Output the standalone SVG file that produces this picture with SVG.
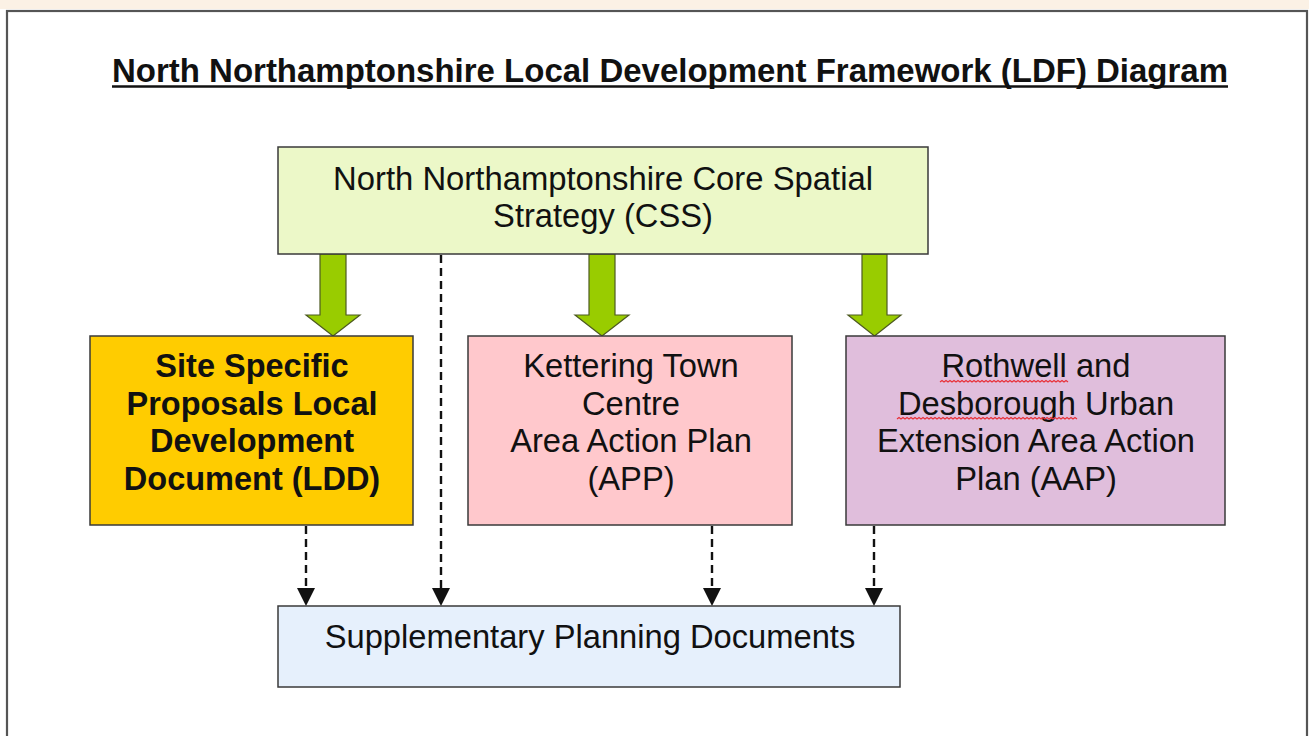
<svg xmlns="http://www.w3.org/2000/svg" width="1309" height="736" viewBox="0 0 1309 736">
<style>
.box{stroke:#3a3a3a;stroke-width:1.5}
.t{font-family:"Liberation Sans",Arial,sans-serif;font-size:32.7px;fill:#111;text-anchor:middle}
.b{font-weight:bold;font-size:32.5px}
.blk{fill:#99cc00;stroke:#4d5a20;stroke-width:1.2}
.dash{stroke:#111;stroke-width:2.4;stroke-dasharray:8 5;fill:none}
.sq{fill:none;stroke:#e8333a;stroke-width:1.2}
</style>
<defs>
<marker id="ah" markerUnits="userSpaceOnUse" markerWidth="18" markerHeight="18" refX="0" refY="9" orient="auto">
<path d="M0,0 L18,9 L0,18 z" fill="#111"/>
</marker>
</defs>
<rect x="0" y="0" width="1309" height="736" fill="#ffffff"/>
<rect x="0" y="0" width="1309" height="9" fill="#fbf1e5"/>
<rect x="7" y="11" width="1300" height="740" fill="#ffffff" stroke="#555" stroke-width="2.2"/>

<g id="title">
<text class="t b" x="670" y="82" style="font-size:33px" textLength="1116" lengthAdjust="spacingAndGlyphs">North Northamptonshire Local Development Framework (LDF) Diagram</text>
<line x1="112" y1="86.5" x2="1228" y2="86.5" stroke="#111" stroke-width="2.5"/>
</g>

<g id="connectors">
<polygon class="blk" points="320,254 346,254 346,315 360,315 333,336 306,315 320,315"/>
<polygon class="blk" points="589,254 615,254 615,315 629,315 602,336 575,315 589,315"/>
<polygon class="blk" points="862,254 887,254 887,315 901,315 874.5,336 848,315 862,315"/>
<line class="dash" x1="306" y1="526" x2="306" y2="588" marker-end="url(#ah)"/>
<line class="dash" x1="441" y1="255" x2="441" y2="588" marker-end="url(#ah)"/>
<line class="dash" x1="712" y1="526" x2="712" y2="588" marker-end="url(#ah)"/>
<line class="dash" x1="874" y1="526" x2="874" y2="588" marker-end="url(#ah)"/>
</g>

<g id="css">
<rect class="box" x="278" y="147" width="650" height="107" fill="#ecf8c8"/>
<text class="t" x="603" y="190" textLength="540" lengthAdjust="spacingAndGlyphs">North Northamptonshire Core Spatial</text>
<text class="t" x="603" y="227">Strategy (CSS)</text>
</g>

<g id="ldd">
<rect class="box" x="90" y="336" width="323" height="189" fill="#ffcc00"/>
<text class="t b" x="252" y="377">Site Specific</text>
<text class="t b" x="252" y="415">Proposals Local</text>
<text class="t b" x="252" y="452">Development</text>
<text class="t b" x="252" y="490">Document (LDD)</text>
</g>

<g id="app">
<rect class="box" x="468" y="336" width="324" height="189" fill="#ffc8cc"/>
<text class="t" x="631" y="377">Kettering Town</text>
<text class="t" x="631" y="415">Centre</text>
<text class="t" x="631" y="452">Area Action Plan</text>
<text class="t" x="631" y="490">(APP)</text>
</g>

<g id="aap">
<rect class="box" x="846" y="336" width="379" height="189" fill="#e0bedc"/>
<text class="t" x="1036" y="377">Rothwell and</text>
<text class="t" x="1036" y="415">Desborough Urban</text>
<text class="t" x="1036" y="452">Extension Area Action</text>
<text class="t" x="1036" y="490">Plan (AAP)</text>
<polyline class="sq" points="940,382 942,380.5 944,382 946,380.5 948,382 950,380.5 952,382 954,380.5 956,382 958,380.5 960,382 962,380.5 964,382 966,380.5 968,382 970,380.5 972,382 974,380.5 976,382 978,380.5 980,382 982,380.5 984,382 986,380.5 988,382 990,380.5 992,382 994,380.5 996,382 998,380.5 1000,382 1002,380.5 1004,382 1006,380.5 1008,382 1010,380.5 1012,382 1014,380.5 1016,382 1018,380.5 1020,382 1022,380.5 1024,382 1026,380.5 1028,382 1030,380.5 1032,382 1034,380.5 1036,382 1038,380.5 1040,382 1042,380.5 1044,382 1046,380.5 1048,382 1050,380.5 1052,382 1054,380.5 1056,382 1058,380.5 1060,382 1062,380.5 1064,382 1066,380.5 1068,382"/>
<polyline class="sq" points="897,419 899,417.5 901,419 903,417.5 905,419 907,417.5 909,419 911,417.5 913,419 915,417.5 917,419 919,417.5 921,419 923,417.5 925,419 927,417.5 929,419 931,417.5 933,419 935,417.5 937,419 939,417.5 941,419 943,417.5 945,419 947,417.5 949,419 951,417.5 953,419 955,417.5 957,419 959,417.5 961,419 963,417.5 965,419 967,417.5 969,419 971,417.5 973,419 975,417.5 977,419 979,417.5 981,419 983,417.5 985,419 987,417.5 989,419 991,417.5 993,419 995,417.5 997,419 999,417.5 1001,419 1003,417.5 1005,419 1007,417.5 1009,419 1011,417.5 1013,419 1015,417.5 1017,419 1019,417.5 1021,419 1023,417.5 1025,419 1027,417.5 1029,419 1031,417.5 1033,419 1035,417.5 1037,419 1039,417.5 1041,419 1043,417.5 1045,419 1047,417.5 1049,419 1051,417.5 1053,419 1055,417.5 1057,419 1059,417.5 1061,419 1063,417.5 1065,419 1067,417.5 1069,419 1071,417.5 1073,419 1075,417.5 1077,419"/>
</g>

<g id="spd">
<rect class="box" x="278" y="606" width="622" height="81" fill="#e6f0fc"/>
<text class="t" x="590" y="648">Supplementary Planning Documents</text>
</g>
</svg>
